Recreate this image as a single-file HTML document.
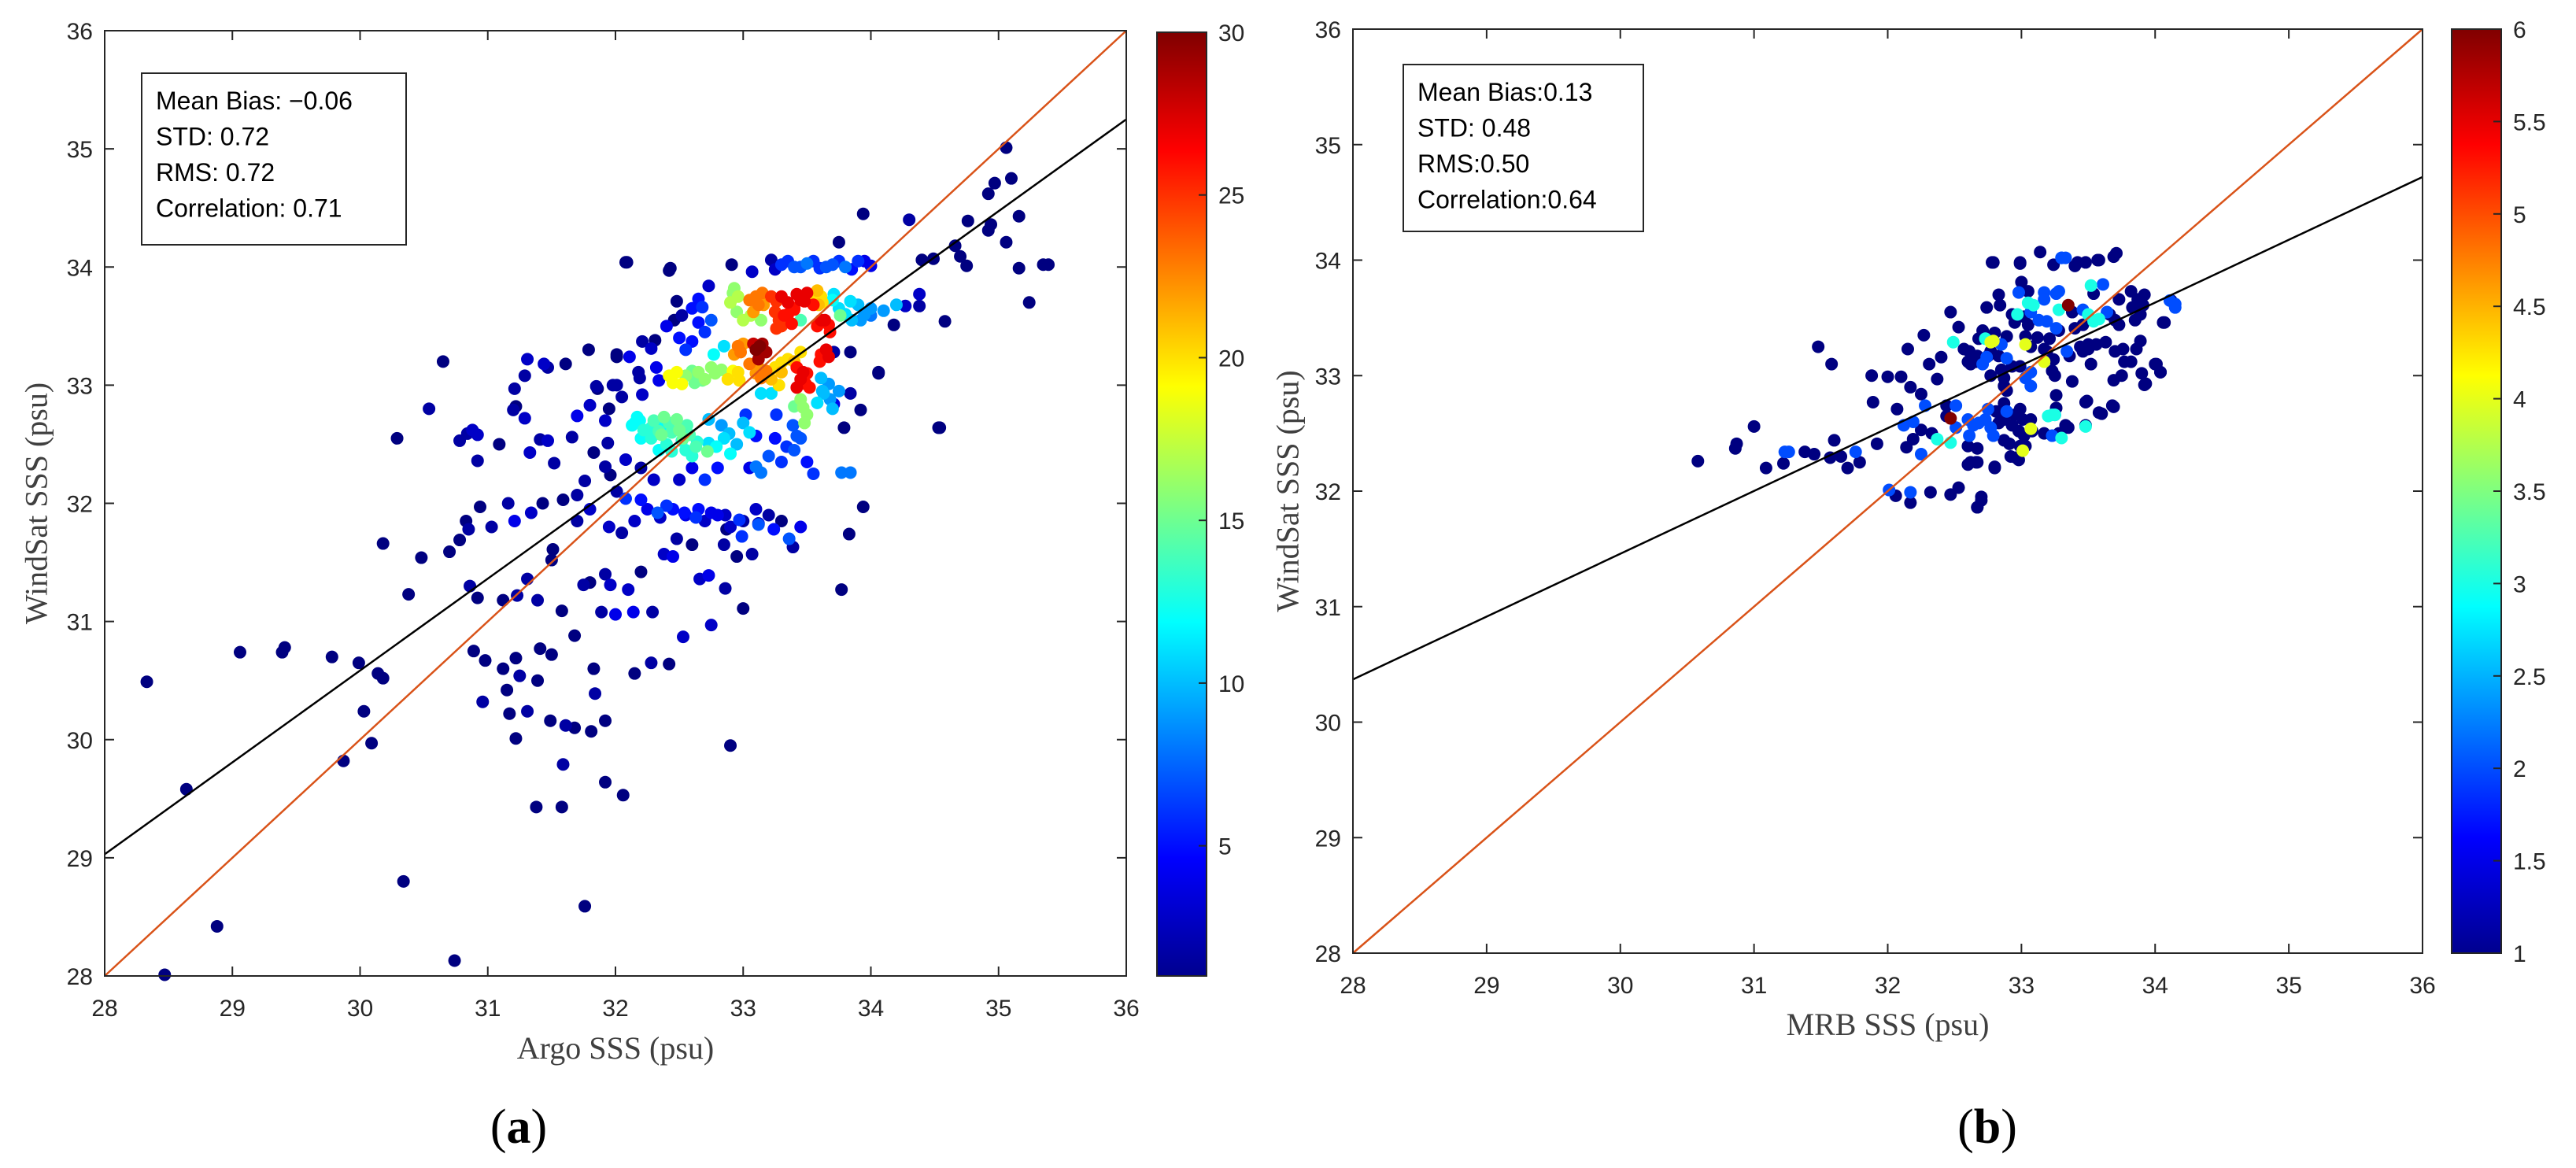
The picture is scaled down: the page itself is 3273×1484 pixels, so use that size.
<!DOCTYPE html>
<html>
<head>
<meta charset="utf-8">
<style>
html,body{margin:0;padding:0;background:#fff;}
svg{display:block;}
.tick{font-family:"Liberation Sans",sans-serif;font-size:30px;fill:#262626;}
.lab{font-family:"Liberation Serif",serif;font-size:40px;fill:#404040;}
.stat{font-family:"Liberation Sans",sans-serif;font-size:32px;fill:#000;}
.panel{font-family:"Liberation Serif",serif;font-size:62px;fill:#000;}
</style>
</head>
<body>
<svg id="fig" width="3273" height="1484" viewBox="0 0 3273 1484" xmlns="http://www.w3.org/2000/svg">
<defs>
<linearGradient id="jetA" x1="0" y1="1" x2="0" y2="0">
<stop offset="0" stop-color="#00008f"/><stop offset="0.125" stop-color="#0000ff"/><stop offset="0.375" stop-color="#00ffff"/><stop offset="0.625" stop-color="#ffff00"/><stop offset="0.875" stop-color="#ff0000"/><stop offset="1" stop-color="#800000"/>
</linearGradient>
</defs>
<g id="panelA"></g>
<g id="panelB"></g>
</svg>
<script>
// ---- Panel (a) data: Argo SSS vs WindSat SSS, colour = density count ----
const aX = [28.33,28.64,28.88,28.47,29.06,29.41,29.39,29.78,29.99,30.03,30.14,30.18,30.09,29.87,30.34,30.74,31.76,30.29,30.18,30.38,30.48,30.54,30.65,30.70,30.78,30.78,30.88,30.84,30.92,30.83,30.85,30.94,31.03,30.92,31.09,31.16,30.86,30.92,30.89,30.98,30.96,31.12,31.22,31.25,31.15,31.17,31.22,31.31,31.39,31.41,31.50,31.49,31.61,31.68,31.81,31.59,31.38,31.58,31.92,32.06,32.90,31.83,31.84,31.92,31.89,32.15,32.28,32.42,32.00,32.14,32.29,32.53,32.75,33.00,32.86,32.10,32.20,31.92,31.96,31.75,31.80,31.58,31.68,31.39,31.23,31.12,31.31,31.50,31.51,32.38,32.45,32.66,32.73,33.07,33.39,33.77,33.83,33.94,34.54,35.24,35.16,35.16,35.06,34.97,35.06,35.10,34.92,35.35,35.39,34.92,34.94,34.76,34.66,34.70,34.75,34.58,34.49,34.40,34.30,33.94,34.38,34.27,34.38,34.18,34.06,33.75,32.08,32.43,32.91,33.22,33.07,33.30,33.40,33.50,33.60,33.70,33.80,33.90,34.00,31.79,31.31,31.29,31.44,31.47,31.61,31.21,31.22,31.20,31.29,31.41,31.47,31.33,31.66,31.52,31.70,31.80,31.92,31.85,32.01,32.01,31.98,32.11,32.21,32.31,32.18,32.21,31.94,31.83,32.08,31.92,31.96,31.76,31.70,31.59,31.43,31.34,31.21,32.01,32.08,32.20,32.33,32.40,32.54,32.63,32.75,32.86,32.97,33.12,32.87,32.99,33.12,33.24,33.36,33.45,32.19,32.28,32.37,32.44,32.53,32.63,32.72,32.60,32.42,32.30,32.48,32.52,32.65,32.75,32.83,32.68,32.96,32.97,33.12,33.14,33.13,33.18,33.08,32.96,32.93,32.77,32.85,33.14,33.06,32.96,32.93,33.10,33.16,33.26,33.28,33.26,33.32,33.42,33.48,33.40,33.45,33.61,33.59,33.61,33.67,33.76,33.71,33.84,33.92,34.00,34.10,34.20,33.47,33.42,33.49,33.61,33.67,33.30,33.45,33.30,33.61,33.63,33.67,33.45,33.47,33.14,33.22,32.17,32.13,32.38,32.48,32.34,32.56,32.73,32.83,32.89,32.73,32.79,32.44,32.28,32.52,33.10,33.14,33.77,33.84,33.34,33.42,33.39,33.26,33.02,33.10,32.65,32.68,32.73,32.65,32.48,32.46,32.52,32.60,32.28,32.32,32.34,32.19,32.01,32.09,32.42,33.71,33.84,34.06,33.84,33.92,33.71,33.79,34.53,31.86,31.95,32.05,
33.30,33.35,33.40,33.35,33.30,33.38,33.45,33.50,33.55,33.25,33.22,33.05,33.12,33.08,33.15,32.90,32.95,33.00,32.92,33.55,33.62,33.58,33.58,33.64,33.68,33.75,33.80,33.70,33.85,33.95,33.90,34.00,33.10,33.15,33.12,32.98,33.00,33.05,33.10,33.18,32.88,32.92,33.22,33.25,33.35,33.40,33.28,32.55,32.60,32.70,32.78,32.62,32.42,32.45,33.45,33.50,33.52,33.42,33.60,33.65,33.62,33.68,33.70,33.58,33.75,33.50,33.40,33.48,32.15,32.22,32.30,32.36,32.42,32.50,32.58,32.64,32.40,32.34,32.20,32.55,32.85,32.95,33.05,32.90,33.00,33.35,33.45,33.55,33.65,33.75,33.85,33.95,33.25,32.50,32.55,32.40,32.60,32.70,32.75,33.20,33.30,33.40,33.50,33.55,33.45,33.25,33.05,32.80,32.70,32.60,32.50,32.30,32.20,31.95,32.05,32.15,32.25,32.35,32.45,32.55,32.65,32.70,32.80,32.90,33.00,33.10,33.20,33.30,32.48,32.60,32.85,32.95,31.70,31.80];
const aY = [30.49,29.58,28.42,28.01,30.74,30.78,30.74,30.70,30.65,30.24,30.56,30.52,29.97,29.82,28.80,28.13,28.59,32.55,31.66,31.23,31.54,32.80,33.20,31.59,31.69,32.53,32.62,32.59,32.58,31.85,31.78,31.97,31.80,32.36,32.50,32.00,31.30,31.20,30.75,30.67,30.32,30.60,30.69,30.54,30.42,30.22,30.01,30.24,30.50,30.77,30.72,30.16,30.12,30.10,30.07,29.79,29.43,29.43,29.64,29.53,29.95,30.60,30.39,30.16,31.08,30.56,30.65,30.64,31.06,31.08,31.08,30.87,30.97,31.11,31.28,31.27,31.42,31.40,31.31,31.31,31.33,31.09,30.88,31.18,31.22,31.18,31.36,31.52,31.61,31.57,31.55,31.36,31.39,31.57,31.63,31.27,31.74,31.97,32.64,33.70,33.99,34.43,34.21,34.71,35.01,34.75,34.62,34.02,34.02,34.31,34.36,34.39,34.18,34.09,34.01,33.54,34.07,34.06,34.40,34.45,33.77,33.67,33.67,33.51,33.10,34.21,34.04,33.99,34.02,34.06,33.96,34.02,34.00,34.03,33.99,34.02,34.00,34.05,34.01,33.30,33.22,33.08,33.18,33.15,33.18,32.97,32.82,32.79,32.72,32.54,32.53,32.43,32.56,32.34,32.74,32.83,32.70,32.99,33.26,33.00,33.00,33.24,33.37,33.38,33.11,32.92,32.51,32.43,32.37,32.31,32.24,32.19,32.07,32.03,32.00,31.92,31.85,32.10,32.04,32.03,31.92,31.98,31.92,31.88,31.92,31.90,31.86,31.83,31.78,31.72,31.82,31.78,31.70,31.80,32.70,32.64,32.66,32.60,32.55,32.48,32.44,32.40,32.63,32.58,33.11,33.01,33.11,33.15,33.13,33.04,33.11,33.04,33.15,33.06,33.33,33.28,33.35,33.33,33.26,33.26,33.33,33.55,33.59,33.75,33.82,33.75,33.68,33.71,33.55,33.48,33.59,33.77,33.71,33.64,33.55,33.75,33.68,33.55,33.51,33.59,33.77,33.71,33.55,33.59,33.63,33.68,33.11,33.15,33.01,33.26,33.24,33.19,33.28,33.11,33.06,32.93,33.01,32.88,32.81,32.93,32.93,32.73,32.66,32.73,32.71,32.61,32.66,32.71,32.66,32.59,32.51,32.48,32.44,32.55,32.53,32.31,32.26,32.26,32.26,32.48,32.57,32.66,32.75,32.75,32.57,33.53,33.66,33.84,33.73,33.71,33.55,33.59,33.37,33.31,33.15,33.04,33.06,33.24,34.04,33.97,33.28,33.28,33.11,32.93,32.79,32.84,32.64,32.64,32.97,32.80,32.90,
33.75,33.70,33.65,33.60,33.50,33.52,33.72,33.78,33.68,33.62,33.75,33.72,33.68,33.62,33.78,33.70,33.62,33.55,33.78,33.75,33.70,33.80,33.50,33.55,33.45,33.65,33.60,33.72,33.55,33.60,33.68,33.65,33.30,33.35,33.22,33.28,33.35,33.18,33.10,33.12,33.05,33.12,33.05,33.15,33.22,33.20,33.00,33.08,33.12,33.05,33.10,33.02,33.08,33.02,33.05,33.10,32.98,32.98,33.20,33.30,32.95,32.88,32.80,32.85,32.95,32.75,32.82,32.68,32.68,32.62,32.70,32.58,32.68,32.62,32.58,32.52,32.50,32.45,32.55,32.45,32.55,32.50,32.60,32.42,32.68,34.05,34.00,34.05,34.00,34.05,33.98,34.05,33.98,33.40,33.30,33.50,33.65,33.45,33.55,32.40,32.35,32.45,32.35,32.25,32.55,32.55,32.30,32.30,32.20,32.30,32.20,32.20,32.30,31.80,31.75,31.85,31.95,31.88,31.95,31.90,31.95,31.85,31.90,31.80,31.85,31.95,31.90,31.85,31.70,31.65,31.65,31.55,31.85,31.95];
const aC = [1,1,1,1,1,1,1,1,1,1,1,1,1,1,1,1,1,1,1,1,1,2,1,1,1,2,3,2,3,1,2,1,2,2,1,2,2,1,1,1,2,1,1,2,1,1,1,2,1,1,1,1,2,1,1,2,1,1,1,1,1,1,2,1,2,1,2,1,4,4,2,3,3,1,2,3,1,2,3,2,1,1,1,2,2,1,2,1,1,3,4,3,4,2,2,1,1,1,1,1,1,1,1,1,1,1,1,1,1,1,1,1,1,1,1,1,1,1,2,1,3,3,2,1,1,1,1,1,1,2,3,6,7,8,6,7,8,6,4,1,3,2,3,2,1,2,1,2,3,2,3,3,2,2,4,3,3,2,1,2,2,4,2,1,2,3,2,1,3,2,1,2,2,1,1,3,4,2,6,5,7,6,5,6,4,3,6,3,1,6,7,5,7,4,12,13,12,14,15,14,15,13,12,13,19,19,16,16,16,15,20,20,22,23,30,29,28,23,22,12,11,16,17,17,16,23,22,25,25,25,26,27,27,26,14,20,21,27,26,15,11,11,9,8,9,10,27,26,26,26,27,20,20,21,10,10,9,16,16,11,11,12,12,15,15,14,14,10,9,10,11,12,13,13,13,8,8,8,8,6,7,7,6,6,5,5,6,3,5,1,1,2,5,3,4,4,2,1,1,1,2,1,1,2,1,4,1,1,1,1,2,
27,27,26,26,25,26,27,27,26,25,25,23,23,22,23,17,16,17,16,20,20,21,26,27,26,11,11,12,10,9,10,9,30,29,29,23,22,23,22,23,20,19,21,20,20,21,20,16,15,16,16,15,19,19,27,26,26,27,26,27,10,9,10,11,9,16,15,16,12,13,14,15,14,15,14,13,13,12,12,13,11,10,11,12,10,6,7,6,7,6,5,4,3,5,6,4,5,6,7,7,6,7,5,6,7,5,4,5,6,4,3,3,2,3,2,3,4,3,5,4,5,3,4,3,2,3,2,1,2,1,2,1,2,3];
const aXTicks = [28,29,30,31,32,33,34,35,36];
const aYTicks = [28,29,30,31,32,33,34,35,36];
const aCTicks = [5,10,15,20,25,30];
const aFit = [29.03, 35.25]; // regression value at x=28 and x=36
const aStats = ["Mean Bias: \u22120.06","STD: 0.72","RMS: 0.72","Correlation: 0.71"];

// ---- Panel (b) data: MRB SSS vs WindSat SSS ----
const bX = [30.58,30.87,30.86,31.00,31.09,31.23,31.26,31.22,31.38,31.45,31.48,31.58,31.60,31.57,31.65,31.70,31.76,31.79,31.89,31.88,31.92,32.01,32.06,32.00,32.10,32.17,32.17,32.15,32.27,32.32,32.47,32.53,32.67,32.70,32.47,32.78,32.99,33.14,33.30,33.33,33.42,33.57,33.71,33.69,33.91,33.85,34.00,34.04,33.92,34.11,34.15,34.06,33.68,33.48,33.48,33.58,33.33,33.29,32.96,32.80,32.62,32.66,33.07,33.23,33.25,32.87,32.99,32.79,32.99,33.24,33.30,33.40,33.48,33.58,33.00,32.98,33.05,33.17,33.17,33.26,33.28,33.35,33.52,33.61,33.54,32.83,32.74,32.84,33.05,33.09,32.97,33.07,33.28,33.38,33.46,33.50,33.58,33.54,33.64,33.82,33.87,33.92,33.83,33.89,33.73,34.12,34.15,34.07,33.66,33.73,33.70,32.93,32.95,33.02,33.05,33.13,33.19,33.26,33.28,33.40,33.46,32.71,32.80,32.73,32.79,32.89,33.03,33.12,33.21,32.85,32.77,32.83,32.89,32.75,33.03,33.07,33.17,33.19,33.24,33.17,33.34,33.36,33.44,33.50,33.56,33.63,33.46,33.50,33.52,33.70,33.76,33.77,33.82,33.75,33.69,33.89,33.86,33.90,33.93,34.01,34.04,32.61,32.67,32.60,32.66,32.71,32.77,32.85,32.87,32.93,32.99,33.07,33.03,33.07,33.23,33.25,33.38,32.87,32.89,33.26,33.49,33.69,33.60,33.48,32.60,32.64,32.68,32.73,32.77,32.79,32.83,32.87,32.89,32.75,32.81,32.95,32.99,33.01,33.07,32.93,32.98,33.02,33.03,33.01,33.08,33.17,33.23,33.28,33.30,33.20,33.25,33.26,33.35,32.61,32.60,32.67,32.67,32.60,32.80,32.91,32.92,32.98,32.87,32.70,32.67,32.12,32.19,32.25,32.37,32.44,32.19,32.14,32.25,32.33,32.51,32.51,32.07,32.28,32.44,32.17,32.25,32.47,32.47,32.53,32.49,32.57,32.68,32.62,32.74,32.77,32.31,32.40,32.37];
const bY = [32.26,32.41,32.37,32.56,32.20,32.34,32.34,32.24,32.34,32.32,33.25,33.10,32.44,32.29,32.30,32.20,32.34,32.25,32.77,33.00,32.41,32.01,31.96,32.99,32.99,31.99,31.90,33.23,33.35,31.99,31.97,32.03,31.86,31.92,33.55,33.98,33.98,34.07,34.02,34.02,33.98,34.00,34.06,34.03,33.61,33.48,33.10,33.03,32.92,33.65,33.62,33.46,32.74,32.77,32.57,32.68,32.57,32.48,32.29,32.21,32.25,32.25,32.54,32.66,32.66,32.44,32.39,33.98,33.97,33.96,34.02,33.95,33.98,34.00,33.81,33.72,33.73,33.72,33.66,33.71,33.73,33.61,33.78,33.79,33.71,33.70,33.59,33.61,33.63,33.61,33.53,33.55,33.57,33.55,33.57,33.53,33.49,33.47,33.55,33.73,33.66,33.70,33.59,33.53,33.66,33.65,33.59,33.46,33.53,33.44,33.48,33.53,33.46,33.51,33.44,33.48,33.47,33.41,33.39,33.41,33.44,33.39,33.37,33.32,33.30,33.34,33.34,33.33,33.32,33.27,33.21,33.17,33.15,33.17,33.27,33.25,33.23,33.21,33.14,33.12,33.21,33.17,33.25,33.27,33.27,33.29,33.21,33.23,33.10,33.21,33.23,33.12,33.12,33.00,32.96,33.30,33.23,33.02,32.93,33.10,33.03,33.21,33.17,33.12,33.12,33.10,33.00,33.05,32.98,33.08,33.08,33.03,32.98,32.91,33.04,33.00,32.95,32.91,32.87,32.83,32.78,32.73,32.67,32.56,32.62,32.57,32.59,32.62,32.55,32.48,32.59,32.62,32.69,32.71,32.69,32.66,32.71,32.62,32.62,32.57,32.52,32.48,32.39,32.35,32.52,32.50,32.48,32.50,32.46,32.65,32.66,32.72,32.55,32.48,32.39,32.37,32.25,32.23,32.20,32.41,32.30,32.27,32.76,31.95,31.86,32.57,32.60,32.53,32.45,32.65,32.45,32.38,32.32,32.50,32.74,32.55,32.71,32.74,32.74,32.90,32.84,32.42,32.63,33.42,33.29,33.23,33.32,33.10,33.16,33.29,33.10,33.16,32.97];
const bC = [1,1,1,1,1,2,2,1,1,1,1,1,1,1,1,1,2,1,1,1,1,2,1,1,1,2,1,1,1,1,1,1,1,1,1,1,1,1,2,2,1,1,1,1,1,1,1,1,1,2,2,1,1,1,1,1,1,1,1,1,1,1,4,3,3,1,1,1,1,1,2,1,1,1,1,2,1,2,2,2,2,6,3,2,1,1,1,1,3,3,3,2,3,1,2,3,3,3,2,1,1,1,1,1,1,1,2,1,1,1,1,1,1,1,1,2,2,2,1,1,1,1,1,3,4,1,1,1,1,2,1,1,2,1,4,1,1,1,1,4,2,1,1,1,1,1,1,1,1,1,1,1,1,1,1,1,1,1,1,1,1,1,1,1,1,2,1,1,1,1,1,2,2,2,1,1,1,1,1,1,1,1,1,3,2,2,2,2,2,2,1,1,2,2,1,1,1,1,1,1,1,1,1,4,1,1,2,1,3,3,2,1,1,2,1,1,1,1,1,1,1,1,1,1,1,2,2,1,3,1,1,1,2,1,2,2,1,2,1,1,1,3,6,1,3,1,1,1,2,4,1,1,1];
const bXTicks = [28,29,30,31,32,33,34,35,36];
const bYTicks = [28,29,30,31,32,33,34,35,36];
const bCTicks = [1,1.5,2,2.5,3,3.5,4,4.5,5,5.5,6];
const bFit = [30.37, 34.72];
const bStats = ["Mean Bias:0.13","STD: 0.48","RMS:0.50","Correlation:0.64"];

const NS = "http://www.w3.org/2000/svg";
function mk(parent, tag, attrs, text){
  const e = document.createElementNS(NS, tag);
  for (const k in attrs) e.setAttribute(k, attrs[k]);
  if (text !== undefined) e.textContent = text;
  parent.appendChild(e);
  return e;
}
function jet(t){
  t = Math.max(0, Math.min(1, t));
  const r = Math.max(0, Math.min(1, 1.5 - Math.abs(4*t - 3)));
  const g = Math.max(0, Math.min(1, 1.5 - Math.abs(4*t - 2)));
  const b = Math.max(0, Math.min(1, 1.5 - Math.abs(4*t - 1)));
  return "rgb(" + Math.round(r*255) + "," + Math.round(g*255) + "," + Math.round(b*255) + ")";
}

function drawPanel(g, cfg){
  const L=cfg.L, R=cfg.R, T=cfg.T, B=cfg.B;
  const sx = v => L + (v-28)/(36-28)*(R-L);
  const sy = v => B - (v-28)/(36-28)*(B-T);
  const cy = v => cfg.cbB - (v-cfg.cmin)/(cfg.cmax-cfg.cmin)*(cfg.cbB-cfg.cbT);

  const axbg = mk(g, "rect", {x:L, y:T, width:R-L, height:B-T, fill:"#fff"});
  
  

  const pts = g.appendChild(document.createElementNS(NS, "g"));
  
  
  const n = Math.min(cfg.xs.length, cfg.ys.length, cfg.cs.length);
  const idx = [];
  for (let i = 0; i < n; i++) idx.push(i);
  idx.sort((a, b) => cfg.cs[a] - cfg.cs[b]);
  idx.forEach(i => {
    const c = mk(pts, "circle", {cx:sx(cfg.xs[i]), cy:sy(cfg.ys[i]), r:8, fill:jet((cfg.cs[i]-cfg.cmin)/(cfg.cmax-cfg.cmin))});
    
    
  });

  const one = mk(g, "line", {x1:sx(28), y1:sy(28), x2:sx(36), y2:sy(36), stroke:"#D95319", "stroke-width":2.5});
  
  
  const fit = mk(g, "line", {x1:sx(28), y1:sy(cfg.fit[0]), x2:sx(36), y2:sy(cfg.fit[1]), stroke:"#000", "stroke-width":2.5});
  
  

  const box = mk(g, "rect", {x:L, y:T, width:R-L, height:B-T, fill:"none", stroke:"#262626", "stroke-width":2});
  
  

  cfg.xt.forEach(v => {
    const x = sx(v);
    mk(g, "line", {x1:x, y1:B, x2:x, y2:B-12, stroke:"#262626", "stroke-width":2});
    mk(g, "line", {x1:x, y1:T, x2:x, y2:T+12, stroke:"#262626", "stroke-width":2});
    const t = mk(g, "text", {x:x, y:B+51, "text-anchor":"middle", class:"tick"}, String(v));
    
    
  });
  cfg.yt.forEach(v => {
    const y = sy(v);
    mk(g, "line", {x1:L, y1:y, x2:L+12, y2:y, stroke:"#262626", "stroke-width":2});
    mk(g, "line", {x1:R, y1:y, x2:R-12, y2:y, stroke:"#262626", "stroke-width":2});
    const t = mk(g, "text", {x:L-15, y:y+11, "text-anchor":"end", class:"tick"}, String(v));
    
    
  });

  const sb = mk(g, "rect", {x:cfg.sbox[0], y:cfg.sbox[1], width:cfg.sbox[2], height:cfg.sbox[3], fill:"#fff", stroke:"#262626", "stroke-width":2});
  
  
  cfg.stats.forEach((s, i) => {
    const t = mk(g, "text", {x:cfg.sbox[0]+18, y:cfg.sbox[1]+46+i*45.5, class:"stat"}, s);
    
    
  });

  const cb = mk(g, "rect", {x:cfg.cbL, y:cfg.cbT, width:cfg.cbW, height:cfg.cbB-cfg.cbT, fill:"url(#jetA)", stroke:"#262626", "stroke-width":2});
  
  
  cfg.ct.forEach(v => {
    const y = cy(v);
    mk(g, "line", {x1:cfg.cbL+cfg.cbW, y1:y, x2:cfg.cbL+cfg.cbW-10, y2:y, stroke:"#262626", "stroke-width":2});
    const t = mk(g, "text", {x:cfg.cbL+cfg.cbW+15, y:y+11, class:"tick"}, String(v));
    
    
  });

  const xl = mk(g, "text", {x:(L+R)/2, y:cfg.xlY, "text-anchor":"middle", class:"lab"}, cfg.xlabel);
  
  
  const ylx = cfg.ylX, yly = (T+B)/2;
  const yl = mk(g, "text", {x:ylx, y:yly, "text-anchor":"middle", class:"lab", transform:"rotate(-90 "+ylx+" "+yly+")", "dominant-baseline":"central"}, "WindSat SSS (psu)");
  
  
  const pl = mk(g, "text", {x:cfg.plX, y:1452, "text-anchor":"middle", class:"panel"});
  
  
  mk(pl, "tspan", {}, "(");
  mk(pl, "tspan", {"font-weight":"bold"}, cfg.letter);
  mk(pl, "tspan", {}, ")");
}

drawPanel(document.getElementById("panelA"), {
  L:133, R:1431, T:39, B:1240,
  xs:aX, ys:aY, cs:aC, cmin:1, cmax:30, fit:aFit,
  xt:aXTicks, yt:aYTicks, ct:aCTicks, stats:aStats,
  sbox:[180,93,336,218],
  cbL:1470, cbW:63, cbT:41, cbB:1240,
  xlabel:"Argo SSS (psu)", xlY:1345, ylX:46, plX:659, letter:"a"
});
drawPanel(document.getElementById("panelB"), {
  L:1719, R:3078, T:37, B:1211,
  xs:bX, ys:bY, cs:bC, cmin:1, cmax:6, fit:bFit,
  xt:bXTicks, yt:bYTicks, ct:bCTicks, stats:bStats,
  sbox:[1783,82,305,212],
  cbL:3115, cbW:63, cbT:37, cbB:1211,
  xlabel:"MRB SSS (psu)", xlY:1315, ylX:1636, plX:2525, letter:"b"
});
</script>
</body>
</html>
